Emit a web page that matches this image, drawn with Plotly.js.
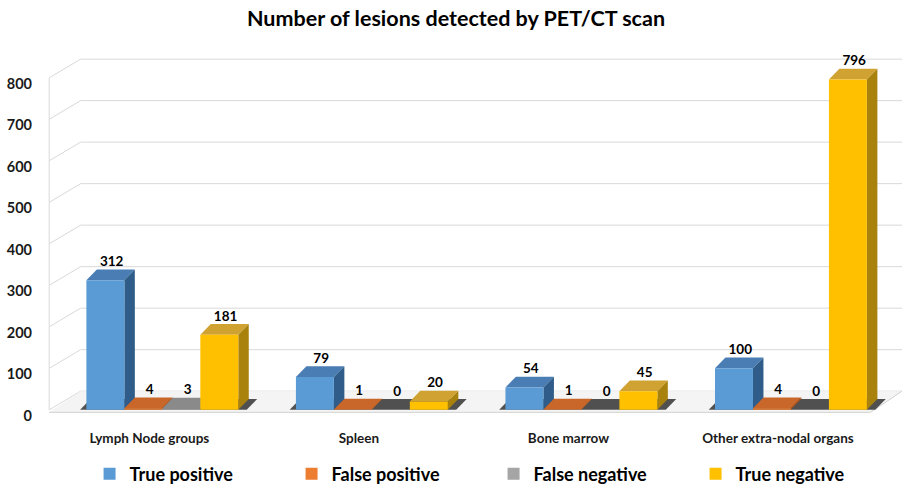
<!DOCTYPE html>
<html>
<head>
<meta charset="utf-8">
<script src="https://cdn.plot.ly/plotly-3.0.1.min.js"></script>
<style>html,body{margin:0;padding:0;background:#fff;}#chart{width:903px;height:484px;}</style>
</head>
<body>
<div id="chart"></div>
<script>
// ---- data ----
const categories = ['Lymph Node groups', 'Spleen', 'Bone marrow', 'Other extra-nodal organs'];
const seriesNames = ['True positive', 'False positive', 'False negative', 'True negative'];
const truePositive = [312, 79, 54, 100];
const falsePositive = [4, 1, 1, 4];
const falseNegative = [3, 0, 0, 0];
const trueNegative = [181, 20, 45, 796];
const yTickVals = [0, 100, 200, 300, 400, 500, 600, 700, 800];

// ---- style ----
const seriesValues = [truePositive, falsePositive, falseNegative, trueNegative];
const frontColors = ['#5B9BD5', '#ED7D31', '#A5A5A5', '#FFC000'];
const topColors = ['#4A7DB3', '#C9662A', '#8A8A8A', '#CFA232'];
const sideColors = ['#2F5C88', '#9E4E1B', '#6B6B6B', '#A9820E'];
const FONT = 'Lato, "Open Sans", sans-serif';
const BARGAP = 0.275;
const W = (1 - BARGAP) / 4;     // bar width in category units
const DX = 0.05, DY = 26;       // 3D depth offset (x units, y units)
const WX0 = -0.54, WDX = 0.15, WDY = 45, XMAX = 3.53, YMIN = -10, YMAX = 867;

const xIdx = categories.map((c, i) => i);
const shapes = [];
const line = (pts, color, width) => ({type: 'path', xref: 'x', yref: 'y', layer: 'below',
  path: 'M' + pts.map(p => p[0] + ',' + p[1]).join('L'), line: {color: color, width: width}});
const poly = (pts, fill) => ({type: 'path', xref: 'x', yref: 'y', layer: 'below',
  path: 'M' + pts.map(p => p[0] + ',' + p[1]).join('L') + 'Z', fillcolor: fill, line: {width: 0}});

// back-wall gridlines
yTickVals.forEach(t => {
  shapes.push(line([[WX0, t], [WX0 + WDX, t + WDY], [XMAX, t + WDY]], '#D9D9D9', 1));
});
shapes.push(line([[WX0, 0], [WX0, yTickVals[yTickVals.length - 1]]], '#D9D9D9', 1));
// floor
shapes.push(poly([[WX0, -6], [XMAX - WDX, -6], [XMAX, WDY], [WX0 + WDX, WDY]], '#F4F4F4'));
shapes.push(line([[WX0, -6], [XMAX - WDX, -6], [XMAX, WDY]], '#D0D0D0', 1));
// shadows under each group
xIdx.forEach(j => {
  const l = j - 2 * W - 0.03, r = j + 2 * W + DX + 0.04;
  shapes.push(poly([[l, 0], [r - DX, 0], [r, DY], [l + DX, DY]], 'rgba(50,50,50,0.85)'));
});
// 3D top and side faces
xIdx.forEach(j => {
  seriesValues.forEach((vals, i) => {
    const v = vals[j];
    const xl = j + (i - 2) * W, xr = xl + W;
    if (v > 0) {
      shapes.push(poly([[xl, v], [xr, v], [xr + DX, v + DY], [xl + DX, v + DY]], topColors[i]));
      shapes.push(poly([[xr, 0], [xr, v], [xr + DX, v + DY], [xr + DX, DY]], sideColors[i]));
    }
  });
});

const traces = seriesValues.map((vals, i) => ({
  type: 'bar', name: seriesNames[i], x: xIdx, y: vals,
  marker: {color: frontColors[i], line: {width: 0}}, hoverinfo: 'x+y'
}));
// data labels
seriesValues.forEach((vals, i) => {
  traces.push({
    type: 'scatter', mode: 'text', showlegend: false, hoverinfo: 'skip',
    x: xIdx.map(j => j + (i - 1.5) * W + DX * 0.6),
    y: vals.map(v => v + DY),
    text: vals.map(String), textposition: 'top center',
    textfont: {family: FONT, size: 13.5, color: '#000', weight: 'bold'}
  });
});

const layout = {
  width: 903, height: 484,
  margin: {l: 45, r: 1, t: 50, b: 70, autoexpand: false},
  paper_bgcolor: '#fff', plot_bgcolor: 'rgba(0,0,0,0)',
  title: {text: 'Number of lesions detected by PET/CT scan', x: 0.505, xref: 'container', y: 0.962, yref: 'container', yanchor: 'middle',
          font: {family: FONT, size: 21.5, color: '#000', weight: 'bold'}},
  barmode: 'group', bargap: BARGAP, bargroupgap: 0,
  xaxis: {range: [WX0 - 0.02, XMAX], tickvals: xIdx, ticktext: categories, showgrid: false, zeroline: false,
          showline: false, ticks: '', ticklabelstandoff: 14, ticklabelshift: -13, automargin: false,
          tickfont: {family: FONT, size: 13.5, color: '#1a1a1a', weight: 'bold'}},
  yaxis: {range: [YMIN, YMAX], tickvals: yTickVals, showgrid: false, zeroline: false, showline: false,
          ticks: '', ticklabelstandoff: 12, ticklabelshift: 6, automargin: false,
          tickfont: {family: FONT, size: 14.5, color: '#1a1a1a', weight: 'bold'}},
  showlegend: true,
  legend: {orientation: 'h', x: 0.052, xanchor: 'left', y: -0.165, yanchor: 'middle',
           entrywidth: 157, entrywidthmode: 'pixels', traceorder: 'normal',
           font: {family: FONT, size: 18, color: '#000', weight: 'bold'}},
  shapes: shapes
};
Plotly.newPlot('chart', traces, layout, {displayModeBar: false, staticPlot: true});
</script>
</body>
</html>
